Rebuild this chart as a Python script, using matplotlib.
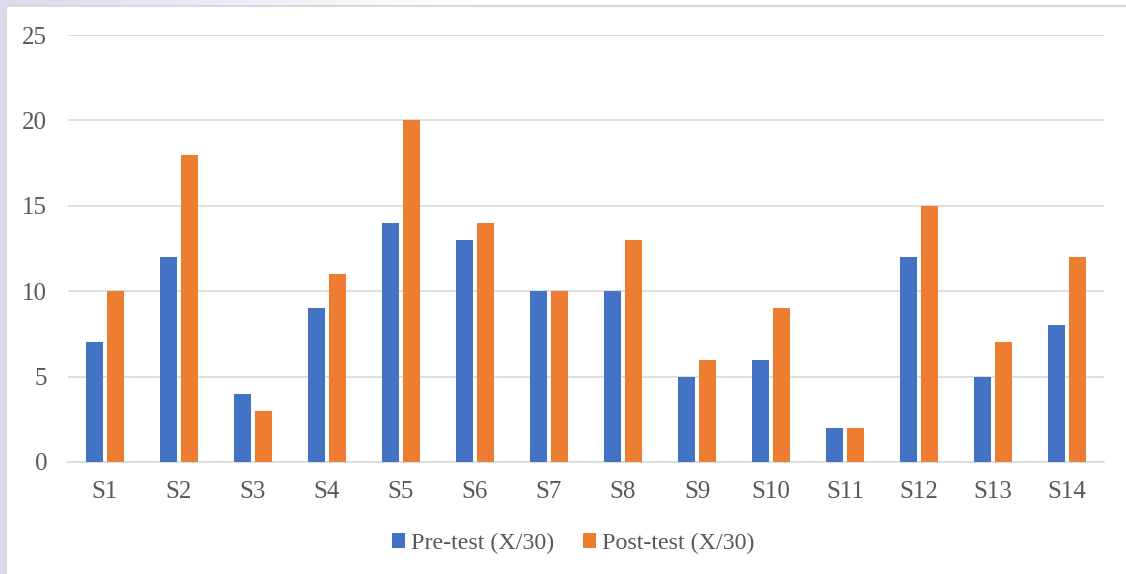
import numpy as np
import matplotlib.pyplot as plt
from matplotlib.patches import Rectangle

plt.rcParams['font.family'] = ['Liberation Serif', 'DejaVu Serif']

# scores per student
students = ["S1", "S2", "S3", "S4", "S5", "S6", "S7", "S8", "S9", "S10", "S11", "S12", "S13", "S14"]
pre_test = [7, 12, 4, 9, 14, 13, 10, 10, 5, 6, 2, 12, 5, 8]
post_test = [10, 18, 3, 11, 20, 14, 10, 13, 6, 9, 2, 15, 7, 12]
y_ticks = [0, 5, 10, 15, 20, 25]

W, H = 1126, 574
fig = plt.figure(figsize=(W / 100, H / 100), dpi=100)
fig.patch.set_facecolor("white")

# faint lavender slide background behind the chart frame
bg = fig.add_axes([0, 0, 1, 1], zorder=-5)
bg.set_axis_off()
xs = np.linspace(0, 1, 400)
fade = np.clip(1 - xs / 0.42, 0, 1)
grad = np.ones((2, 400, 3))
lav = np.array([0.87, 0.85, 0.93])
for c in range(3):
    grad[:, :, c] = 1 - (1 - lav[c]) * fade
bg.imshow(grad, extent=[0, 1, 0, 1], aspect="auto", transform=bg.transAxes)
bg.set_xlim(0, 1)
bg.set_ylim(0, 1)
# white chart area with grey border
fig.patches.append(Rectangle((6 / W, -0.01), 1.1, 1 - 6 / H + 0.01, transform=fig.transFigure,
                             facecolor="white", edgecolor="#d9d9d9", linewidth=1.5, zorder=-4))

ax = fig.add_axes([68 / W, 1 - 462 / H, (1104 - 68) / W, (462 - 35) / H])
ax.set_facecolor("none")

x = np.arange(len(students))
bw = 0.23
gap = 0.055
ax.bar(x - (bw + gap) / 2, pre_test, bw, color="#4472c4", label="Pre-test (X/30)", zorder=3)
ax.bar(x + (bw + gap) / 2, post_test, bw, color="#ed7d31", label="Post-test (X/30)", zorder=3)

ax.set_xlim(-0.5, len(students) - 0.5)
ax.set_ylim(0, 25)
ax.set_yticks(y_ticks)
ax.set_xticks(x)
ax.set_xticklabels(students)
ax.yaxis.grid(True, color="#d9d9d9", linewidth=1.2, zorder=0)
ax.tick_params(axis="both", length=0, labelsize=18, colors="#595959")
ax.tick_params(axis="y", pad=15)
ax.tick_params(axis="x", pad=14)
for s in ["top", "right", "left"]:
    ax.spines[s].set_visible(False)
ax.spines["bottom"].set_color("#d9d9d9")
ax.spines["bottom"].set_linewidth(1.2)

leg = ax.legend(loc="upper center", bbox_to_anchor=(0.4875, -0.115), ncol=2, frameon=False,
                fontsize=17.3, handlelength=0.55, handleheight=0.55, handletextpad=0.25,
                columnspacing=1.2)
for t in leg.get_texts():
    t.set_color("#595959")

fig.savefig("out.png", dpi=100)
